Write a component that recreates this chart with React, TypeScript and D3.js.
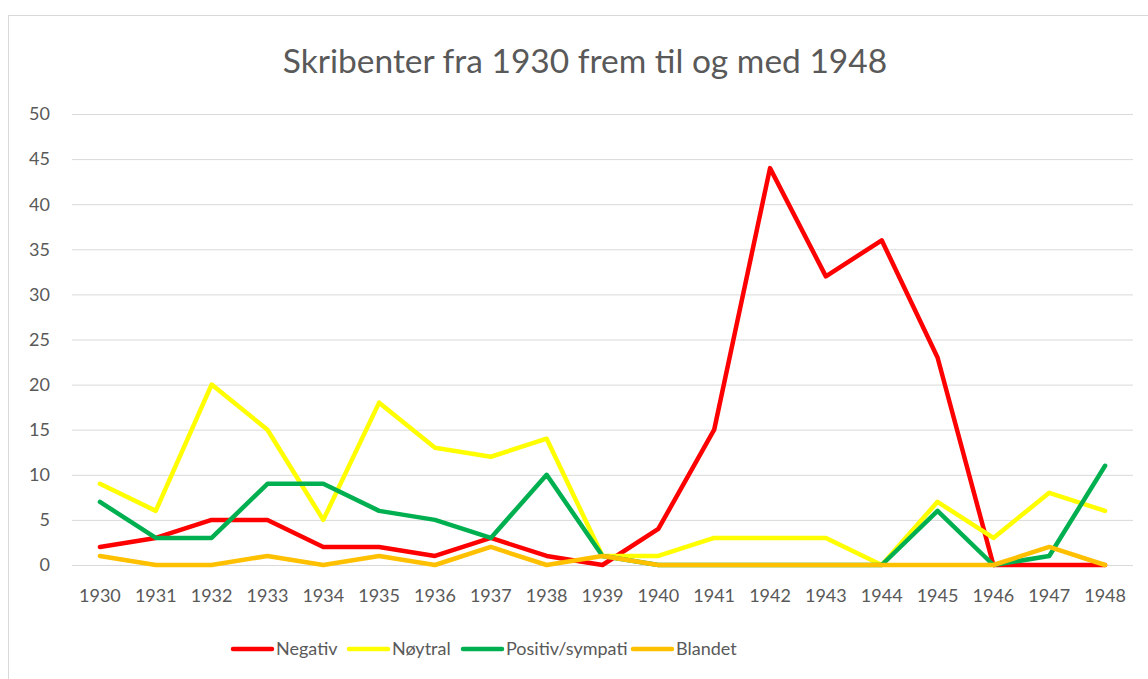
import React, { useEffect, useRef } from "react";
import * as d3 from "d3";

const years = ["1930","1931","1932","1933","1934","1935","1936","1937","1938","1939","1940","1941","1942","1943","1944","1945","1946","1947","1948"];
const negativ = [2,3,5,5,2,2,1,3,1,0,4,15,44,32,36,23,0,0,0];
const noytral = [9,6,20,15,5,18,13,12,14,1,1,3,3,3,0,7,3,8,6];
const positiv = [7,3,3,9,9,6,5,3,10,1,0,0,0,0,0,6,0,1,11];
const blandet = [1,0,0,1,0,1,0,2,0,1,0,0,0,0,0,0,0,2,0];
const yTicks = [0,5,10,15,20,25,30,35,40,45,50];

const seriesNames = ["Negativ", "Nøytral", "Positiv/sympati", "Blandet"];
const seriesColors = ["#ff0000", "#ffff00", "#00b050", "#ffc000"];

const FONT = "Lato, 'Open Sans', sans-serif";

export default function App() {
  const ref = useRef<SVGSVGElement>(null);

  useEffect(() => {
    const svg = d3.select(ref.current);
    svg.selectAll("*").remove();

    const W = 1148, H = 679;
    const left = 72, right = 1133, top = 114, bottom = 565;

    // chart border
    svg.append("rect")
      .attr("x", 8.5).attr("y", 15.5)
      .attr("width", W + 10).attr("height", H + 10)
      .attr("fill", "#fff").attr("stroke", "#d9d9d9");

    svg.append("text")
      .attr("x", 585).attr("y", 73)
      .attr("text-anchor", "middle")
      .style("font-family", FONT).style("font-size", "33.5px")
      .attr("fill", "#595959")
      .text("Skribenter fra 1930 frem til og med 1948");

    const x = d3.scalePoint<string>().domain(years).range([left, right]).padding(0.5);
    const y = d3.scaleLinear().domain([0, 50]).range([bottom, top]);

    // horizontal grid
    svg.selectAll("line.grid")
      .data(yTicks)
      .join("line")
      .attr("class", "grid")
      .attr("x1", left).attr("x2", right)
      .attr("y1", d => y(d) + 0.5).attr("y2", d => y(d) + 0.5)
      .attr("stroke", "#d9d9d9").attr("stroke-width", 1);

    svg.selectAll("text.ytick")
      .data(yTicks)
      .join("text")
      .attr("class", "ytick")
      .attr("x", 50).attr("y", d => y(d))
      .attr("dy", "0.35em")
      .attr("text-anchor", "end")
      .style("font-family", FONT).style("font-size", "18px")
      .attr("fill", "#595959")
      .text(d => d);

    svg.selectAll("text.xtick")
      .data(years)
      .join("text")
      .attr("class", "xtick")
      .attr("x", d => x(d)!).attr("y", 596)
      .attr("dy", "0.35em")
      .attr("text-anchor", "middle")
      .style("font-family", FONT).style("font-size", "18px")
      .attr("fill", "#595959")
      .text(d => d);

    const allSeries = [negativ, noytral, positiv, blandet];
    const line = d3.line<number>()
      .x((_, i) => x(years[i])!)
      .y(d => y(d));

    allSeries.forEach((vals, i) => {
      svg.append("path")
        .datum(vals)
        .attr("d", line)
        .attr("fill", "none")
        .attr("stroke", seriesColors[i])
        .attr("stroke-width", 4.5)
        .attr("stroke-linejoin", "round")
        .attr("stroke-linecap", "round");
    });

    // legend
    const legendX = [233, 349, 463, 633];
    const lg = svg.append("g");
    seriesNames.forEach((name, i) => {
      lg.append("line")
        .attr("x1", legendX[i]).attr("x2", legendX[i] + 39)
        .attr("y1", 649).attr("y2", 649)
        .attr("stroke", seriesColors[i]).attr("stroke-width", 4.5)
        .attr("stroke-linecap", "round");
      lg.append("text")
        .attr("x", legendX[i] + 43).attr("y", 649)
        .attr("dy", "0.35em")
        .style("font-family", FONT).style("font-size", "18px")
        .attr("fill", "#595959")
        .text(name);
    });
  }, []);

  return (
    <svg
      ref={ref}
      width={1148}
      height={679}
      style={{ position: "absolute", left: 0, top: 0, background: "#fff" }}
    />
  );
}
